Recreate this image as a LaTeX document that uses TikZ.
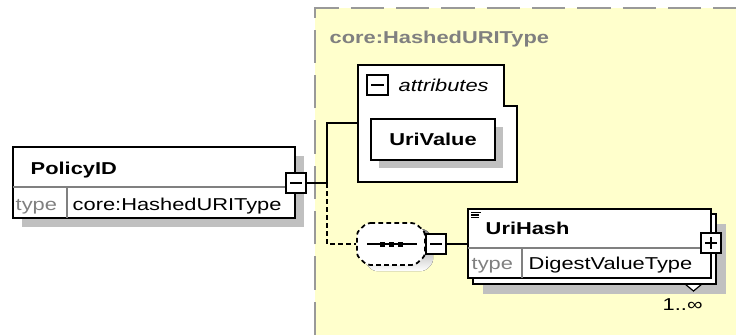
\documentclass[tikz,border=0pt]{standalone}
\usepackage{fontspec}
\setmainfont{Liberation Sans}
\usepackage{graphicx}
\definecolor{zone}{HTML}{FFFFCC}
\definecolor{shade}{HTML}{C0C0C0}
\definecolor{dimtext}{HTML}{808080}
\definecolor{rulegray}{HTML}{999999}
\newcommand\wx[1]{\scalebox{1.27}[1]{#1}}
\begin{document}
\begin{tikzpicture}[x=0.75pt,y=-0.75pt, line width=1.1pt,
  box/.style={draw=black, fill=white, inner sep=0pt, line width=1.1pt},
  shadowbox/.style={fill=shade, inner sep=0pt},
  pmbox/.style={draw=black, fill=white, inner sep=0pt, minimum size=15pt, line width=1.1pt},
  minusbox/.style={pmbox, path picture={\draw[line width=1.1pt] ([xshift=3pt]path picture bounding box.west) -- ([xshift=-3pt]path picture bounding box.east);}},
  plusbox/.style={pmbox, path picture={\draw[line width=1.1pt] ([xshift=3pt]path picture bounding box.west) -- ([xshift=-3pt]path picture bounding box.east); \draw[line width=1.1pt] ([yshift=-3pt]path picture bounding box.north) -- ([yshift=3pt]path picture bounding box.south);}},
  txt/.style={inner sep=0pt, font=\fontsize{12.9}{15}\selectfont},
  divider/.style={draw=dimtext, line width=0.8pt},
  dashline/.style={dash pattern=on 3.5pt off 2.5pt}
]
\useasboundingbox (0,0) rectangle (736,335);
% yellow zone
\fill[zone] (315,8) rectangle (736,335);
\draw[rulegray, line width=1.3pt, dash pattern=on 25pt off 9pt] (315,335) -- (315,8) -- (736,8);
\node[txt, anchor=base west, text=dimtext] (zlabel) at (329,43.3) {\wx{\textbf{core:HashedURIType}}};

% PolicyID element
\node[shadowbox, minimum width=211.5pt, minimum height=53.25pt] (policyshadow) at (163,191.5) {};
\node[box, minimum width=211.5pt, minimum height=53.25pt] (policy) at (154,182.5) {};
\draw[divider] (13,187) -- (295,187);
\draw[divider] (67,187) -- (67,218);
\node[txt, anchor=base west] (policyname) at (30,174.3) {\wx{\textbf{PolicyID}}};
\node[txt, anchor=base west, text=dimtext] (policytype) at (15,210) {\wx{type}};
\node[txt, anchor=base west] (policytypev) at (72,210) {\wx{core:HashedURIType}};
\node[minusbox] (pm) at (296,183) {};

% attributes group
\draw[fill=white, line width=1.1pt] (358,65) -- (504,65) -- (504,106) -- (517,106) -- (517,182) -- (358,182) -- cycle;
\coordinate (attrin) at (358,123);
\node[minusbox, minimum width=15.75pt] (am) at (377.5,85) {};
\node[txt, anchor=base west] (attrlabel) at (398,91.7) {\wx{\itshape attributes}};
\node[shadowbox, minimum width=93pt, minimum height=30.75pt] (urivalueshadow) at (441,147.5) {};
\node[box, minimum width=93pt, minimum height=30.75pt] (urivalue) at (433,139.5) {};
\node[txt, anchor=base] (urivaluetext) at (433,145.7) {\wx{\textbf{UriValue}}};

% sequence compositor
\fill[shade, rounded corners=2.5pt] (373,229) -- (425,229) -- (433,237) -- (433,263) -- (425,271) -- (373,271) -- (365,263) -- (365,237) -- cycle;
\draw[fill=white, dashline, line width=1.3pt, rounded corners=2.5pt] (367,223) -- (415,223) -- (425,232) -- (425,256) -- (415,265) -- (367,265) -- (357,256) -- (357,232) -- cycle;
\node[inner sep=0pt, minimum width=51pt, minimum height=31.5pt] (seq) at (391,244) {};
\draw (367,244) -- (417,244);
\fill (379.5,241.5) rectangle (384.5,246.5);
\fill (388.5,241.5) rectangle (393.5,246.5);
\fill (397.5,241.5) rectangle (402.5,246.5);
\node[minusbox] (sm) at (436,244) {};

% UriHash element
\node[shadowbox, minimum width=182.25pt, minimum height=52.5pt] (urishadow) at (604.5,259) {};
\draw[fill=white, line width=0.9pt] (685,284) -- (693.5,291) -- (702,284) -- cycle;
\node[box, minimum width=182.25pt, minimum height=52.5pt] (uriback) at (594.5,249) {};
\node[box, minimum width=182.25pt, minimum height=51.75pt] (uri) at (589.5,243.5) {};
\draw[divider] (468,248) -- (711,248);
\draw[divider] (522,248) -- (522,278);
\draw[line width=0.8pt] (471,212.3) -- (481,212.3);
\draw[line width=0.8pt] (471,215) -- (479,215);
\draw[line width=0.8pt] (471,217.7) -- (479,217.7);
\node[txt, anchor=base west] (uriname) at (485,234.3) {\wx{\textbf{UriHash}}};
\node[txt, anchor=base west, text=dimtext] (uritype) at (471,269) {\wx{type}};
\node[txt, anchor=base west] (uritypev) at (528,269) {\wx{DigestValueType}};
\node[plusbox] (up) at (711,243) {};
\node[txt, anchor=base west] (card) at (662,310.7) {\wx{1..∞}};

% connectors
\coordinate (j) at (327,183);
\draw (pm.east) -- (j);
\draw (j) |- (attrin);
\draw[dashline] (j) |- (seq.west);
\draw (sm.east) -- (uri.west |- sm.east);
\end{tikzpicture}
\end{document}
